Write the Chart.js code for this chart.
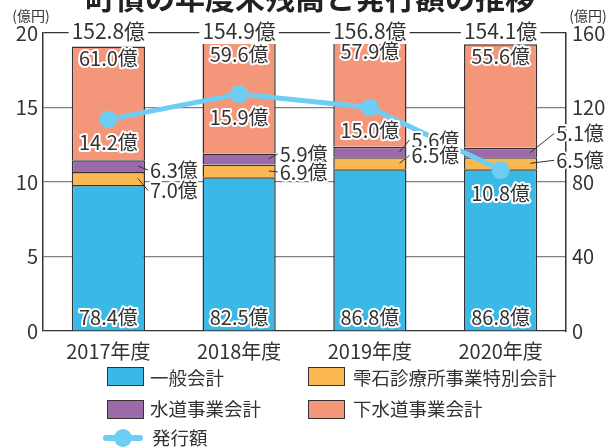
<!DOCTYPE html>
<html>
<head>
<meta charset="utf-8">
<script src="https://cdn.jsdelivr.net/npm/chart.js@4"></script>
<style>
  body { margin: 0; background: #fff; }
  #wrap { position: relative; width: 609px; height: 448px; overflow: hidden; }
  #myChart { position: absolute; left: 0; top: 0; }
  .leg { position: absolute; font: 18.5px "Noto Sans CJK JP", sans-serif; color: #333; line-height: 20px; }
  .box { position: absolute; width: 35px; height: 17px; border: 1.5px solid #333; }
</style>
</head>
<body>
<div id="wrap">
  <canvas id="myChart" width="609" height="448"></canvas>
  <div class="box" style="left:107px;top:367px;background:#3bb9e6"></div>
  <div class="leg" style="left:150px;top:367px">一般会計</div>
  <div class="box" style="left:308px;top:367px;background:#fbb852"></div>
  <div class="leg" style="left:353px;top:367px">雫石診療所事業特別会計</div>
  <div class="box" style="left:107px;top:400px;background:#9c69aa"></div>
  <div class="leg" style="left:150px;top:398px">水道事業会計</div>
  <div class="box" style="left:308px;top:400px;background:#f4967a"></div>
  <div class="leg" style="left:353px;top:398px">下水道事業会計</div>
  <div style="position:absolute;left:103px;top:435px;width:40px;height:6px;border-radius:3px;background:#6dcdf2"></div>
  <div style="position:absolute;left:114px;top:429px;width:18px;height:18px;border-radius:9px;background:#6dcdf2"></div>
  <div class="leg" style="left:152px;top:427px">発行額</div>
</div>
<script>
// データ
const years = ["2017年度", "2018年度", "2019年度", "2020年度"];
const ippan = [78.4, 82.5, 86.8, 86.8];        // 一般会計
const shinryo = [7.0, 6.9, 6.5, 6.5];         // 雫石診療所事業特別会計
const suido = [6.3, 5.9, 5.6, 5.1];           // 水道事業会計
const gesuido = [61.0, 59.6, 57.9, 55.6];     // 下水道事業会計
const hakko = [14.2, 15.9, 15.0, 10.8];       // 発行額
const totals = ["152.8億", "154.9億", "156.8億", "154.1億"];

const FONT = '"Noto Sans CJK JP", sans-serif';
const TXT = "#333";

// 小さい区分のラベル位置 (棒の右端からのずれ)
const smallDx = [5, 4, 5, 19];
const suidoDy = [4, -5, -12, -19];
const shinryoDy = [12, 1, -8, -3];

function outlined(ctx, text, x, y) {
  ctx.lineWidth = 4;
  ctx.strokeStyle = "#fff";
  ctx.lineJoin = "round";
  ctx.strokeText(text, x, y);
  ctx.fillStyle = TXT;
  ctx.fillText(text, x, y);
}

const labelsPlugin = {
  id: "labels",
  afterDraw(chart) {
    const ctx = chart.ctx;
    const area = chart.chartArea;
    ctx.save();

    // タイトル (上が切れている)
    ctx.font = "bold 30px " + FONT;
    ctx.fillStyle = "#222";
    ctx.textAlign = "center";
    ctx.textBaseline = "alphabetic";
    ctx.fillText("町債の年度末残高と発行額の推移", 310, 9);

    // 単位
    ctx.font = "14px " + FONT;
    ctx.fillStyle = TXT;
    ctx.textBaseline = "middle";
    ctx.fillText("(億円)", 31, 16);
    ctx.fillText("(億円)", 588, 16);

    const mBlue = chart.getDatasetMeta(0).data;
    const mOrange = chart.getDatasetMeta(1).data;
    const mPurple = chart.getDatasetMeta(2).data;
    const mSalmon = chart.getDatasetMeta(3).data;
    const mLine = chart.getDatasetMeta(4).data;

    for (let i = 0; i < years.length; i++) {
      const b = mBlue[i];
      const cx = b.x;
      const right = b.x + b.width / 2;

      // 合計
      ctx.font = "21px " + FONT;
      ctx.textAlign = "center";
      const tw = ctx.measureText(totals[i]).width;
      ctx.fillStyle = "#fff";
      ctx.fillRect(cx - tw / 2 - 3, area.top - 13, tw + 6, 24);
      ctx.fillStyle = TXT;
      ctx.fillText(totals[i], cx, area.top - 2);

      // 棒の中
      ctx.font = "20px " + FONT;
      outlined(ctx, gesuido[i].toFixed(1) + "億", cx, mSalmon[i].y + 12);
      outlined(ctx, ippan[i].toFixed(1) + "億", cx, b.base - 13);

      // 発行額
      const p = mLine[i];
      outlined(ctx, hakko[i].toFixed(1) + "億", p.x, p.y + 23);

      // 小さい区分
      const tx = right + smallDx[i];
      const segs = [
        [mPurple[i], suido[i], suidoDy[i]],
        [mOrange[i], shinryo[i], shinryoDy[i]]
      ];
      segs.forEach(([el, v, dy]) => {
        const my = (el.y + el.base) / 2;
        const ly = my + dy;
        ctx.beginPath();
        ctx.strokeStyle = TXT;
        ctx.lineWidth = 1;
        ctx.moveTo(right - 7, my);
        ctx.lineTo(tx - 2, ly);
        ctx.stroke();
        ctx.textAlign = "left";
        outlined(ctx, v.toFixed(1) + "億", tx, ly);
      });
    }
    ctx.restore();
  }
};

const barStyle = (color) => ({
  backgroundColor: color,
  borderColor: "#333",
  borderWidth: 1.5,
  yAxisID: "y1",
  order: 1,
  barPercentage: 0.56,
  categoryPercentage: 1
});

const config = {
  type: "bar",
  data: {
    labels: years,
    datasets: [
      { label: "一般会計", data: ippan, ...barStyle("#3bb9e6") },
      { label: "雫石診療所事業特別会計", data: shinryo, ...barStyle("#fbb852") },
      { label: "水道事業会計", data: suido, ...barStyle("#9c69aa") },
      { label: "下水道事業会計", data: gesuido, ...barStyle("#f4967a") },
      {
        type: "line",
        label: "発行額",
        data: hakko,
        yAxisID: "y",
        order: 0,
        borderColor: "#6dcdf2",
        backgroundColor: "#6dcdf2",
        borderWidth: 5,
        pointRadius: 9,
        pointBorderWidth: 0
      }
    ]
  },
  options: {
    responsive: false,
    animation: false,
    layout: { padding: { top: 33, bottom: 87, left: 0, right: 0 } },
    plugins: { legend: { display: false }, tooltip: { enabled: false } },
    scales: {
      x: {
        stacked: true,
        grid: { display: false },
        border: { display: false },
        ticks: { color: TXT, font: { family: FONT, size: 20 }, padding: 0 },
        afterFit: (s) => { s.height = 30; }
      },
      y: {
        position: "left",
        min: 0, max: 20,
        ticks: { stepSize: 5, color: TXT, font: { family: FONT, size: 20 }, padding: 5 },
        grid: {
          tickLength: 0,
          lineWidth: 1.3,
          color: (c) => (c.tick && (c.tick.value === 0 || c.tick.value === 20)) ? "#333" : "#808080"
        },
        border: { color: "#333", width: 1.5 },
        afterFit: (s) => { s.width = 43; }
      },
      y1: {
        position: "right",
        stacked: true,
        min: 0, max: 160,
        ticks: { stepSize: 40, color: TXT, font: { family: FONT, size: 20 }, padding: 6 },
        grid: { drawOnChartArea: false, tickLength: 0 },
        border: { color: "#333", width: 1.5 },
        afterFit: (s) => { s.width = 43; }
      }
    }
  },
  plugins: [labelsPlugin]
};

const chartDOM = document.getElementById("myChart");
const myChart = new Chart(chartDOM, config);
</script>
</body>
</html>
